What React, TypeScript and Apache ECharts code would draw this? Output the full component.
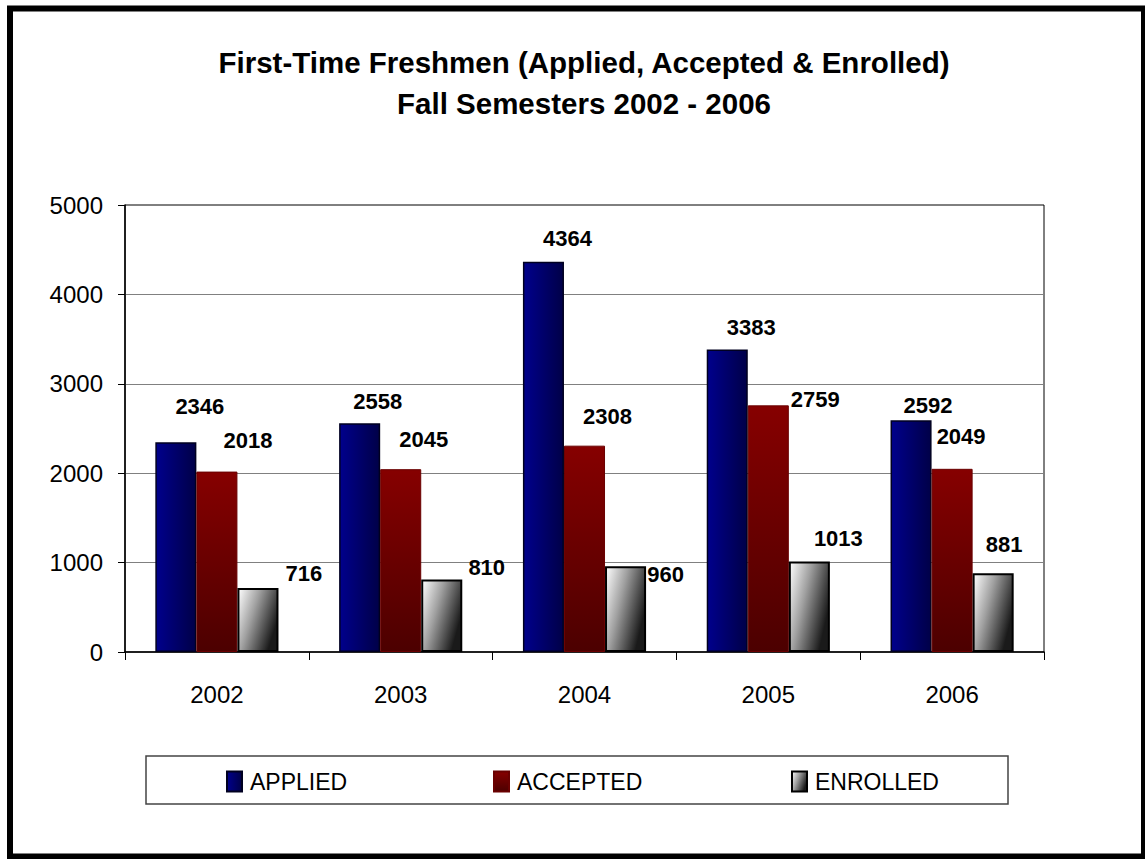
import React, { useEffect, useRef } from "react";
import * as echarts from "echarts";

const years = ["2002", "2003", "2004", "2005", "2006"];
const applied = [2346, 2558, 4364, 3383, 2592];
const accepted = [2018, 2045, 2308, 2759, 2049];
const enrolled = [716, 810, 960, 1013, 881];
const yTicks = { min: 0, max: 5000, interval: 1000 };

// label offsets (styling only): shift of each value label from the bar's top centre
const appliedLabelShift = [[24, -36], [18, -22], [24, -23], [24, -22], [17, -15]];
const acceptedLabelShift = [[31, -31], [23, -30], [23, -29], [47, -6], [9, -32]];
const enrolledLabelShift = [[46, -14], [45, -12], [40, 8], [29, -23], [11, -29]];

const FONT = "'Liberation Sans', Arial, sans-serif";
const LABEL_SIZE = 22;

function withLabels(values: number[], shifts: number[][]) {
  return values.map((v, i) => ({
    value: v,
    label: { offset: [shifts[i][0], shifts[i][1] + LABEL_SIZE / 2] },
  }));
}

export default function App() {
  const ref = useRef<HTMLDivElement>(null);
  useEffect(() => {
    if (!ref.current) return;
    const chart = echarts.init(ref.current, null, { renderer: "svg" });
    const labelCommon = {
      show: true,
      position: "top",
      distance: 0,
      color: "#000",
      fontFamily: FONT,
      fontWeight: "bold",
      fontSize: LABEL_SIZE,
    };
    const appliedColor = new echarts.graphic.LinearGradient(0, 0, 1, 0, [
      { offset: 0, color: "#00008c" },
      { offset: 1, color: "#000048" },
    ]);
    const acceptedColor = new echarts.graphic.LinearGradient(0, 0, 0, 1, [
      { offset: 0, color: "#860000" },
      { offset: 1, color: "#4c0000" },
    ]);
    const enrolledColor = new echarts.graphic.LinearGradient(0, 0, 1, 0.5, [
      { offset: 0, color: "#ffffff" },
      { offset: 0.45, color: "#a0a0a0" },
      { offset: 1, color: "#1a1a1a" },
    ]);
    const legendCommon = {
      itemWidth: 15,
      itemHeight: 20,
      icon: "rect",
      top: 765,
      textStyle: { fontFamily: FONT, fontSize: 23, color: "#000", padding: [2, 0, 0, 3] },
    };
    chart.setOption({
      animation: false,
      backgroundColor: "#fff",
      title: {
        text: "First-Time Freshmen (Applied, Accepted & Enrolled)\nFall Semesters 2002 - 2006",
        left: 579,
        top: 37,
        textAlign: "center",
        textStyle: {
          fontFamily: FONT,
          fontSize: 29.5,
          fontWeight: "bold",
          color: "#000",
          lineHeight: 41,
        },
      },
      legend: [
        { ...legendCommon, left: 221, data: ["APPLIED"] },
        { ...legendCommon, left: 488, data: ["ACCEPTED"] },
        { ...legendCommon, left: 786, data: ["ENROLLED"] },
      ],
      grid: {
        left: 125,
        right: 101,
        top: 205,
        bottom: 207,
        show: true,
        borderColor: "#000",
        borderWidth: 1,
        backgroundColor: "transparent",
      },
      xAxis: {
        type: "category",
        data: years,
        axisLine: { lineStyle: { color: "#000", width: 1.5 } },
        axisTick: { show: true, length: 8, alignWithLabel: false, lineStyle: { color: "#000" } },
        axisLabel: { fontFamily: FONT, fontSize: 24, color: "#000", margin: 30 },
      },
      yAxis: {
        type: "value",
        min: yTicks.min,
        max: yTicks.max,
        interval: yTicks.interval,
        axisLine: { show: true, lineStyle: { color: "#000", width: 1.5 } },
        axisTick: { show: true, length: 7, lineStyle: { color: "#000" } },
        axisLabel: {
          fontFamily: FONT,
          fontSize: 24,
          color: "#000",
          margin: 22,
          formatter: (v: number) => String(v),
        },
        splitLine: { show: true, showMaxLine: false, lineStyle: { color: "#808080", width: 1 } },
      },
      series: [
        {
          name: "APPLIED",
          type: "bar",
          data: withLabels(applied, appliedLabelShift),
          barGap: "0%",
          barCategoryGap: "33%",
          itemStyle: { color: appliedColor, borderColor: "#000020", borderWidth: 1.5 },
          label: labelCommon,
        },
        {
          name: "ACCEPTED",
          type: "bar",
          data: withLabels(accepted, acceptedLabelShift),
          barGap: "0%",
          barCategoryGap: "33%",
          itemStyle: { color: acceptedColor, borderColor: "#6a0000", borderWidth: 1 },
          label: labelCommon,
        },
        {
          name: "ENROLLED",
          type: "bar",
          data: withLabels(enrolled, enrolledLabelShift),
          barGap: "0%",
          barCategoryGap: "33%",
          itemStyle: { color: enrolledColor, borderColor: "#000", borderWidth: 2 },
          label: labelCommon,
        },
      ],
      graphic: [
        {
          type: "rect",
          shape: { x: 10, y: 8.5, width: 1134, height: 848 },
          style: { fill: "none", stroke: "#000", lineWidth: 6 },
          silent: true,
        },
        {
          type: "rect",
          shape: { x: 146, y: 756, width: 862, height: 48 },
          style: { fill: "none", stroke: "#444", lineWidth: 1.5 },
          silent: true,
        },
      ],
    });
    return () => chart.dispose();
  }, []);
  return (
    <div
      ref={ref}
      style={{ position: "absolute", left: 0, top: 0, width: 1145, height: 859 }}
    />
  );
}
